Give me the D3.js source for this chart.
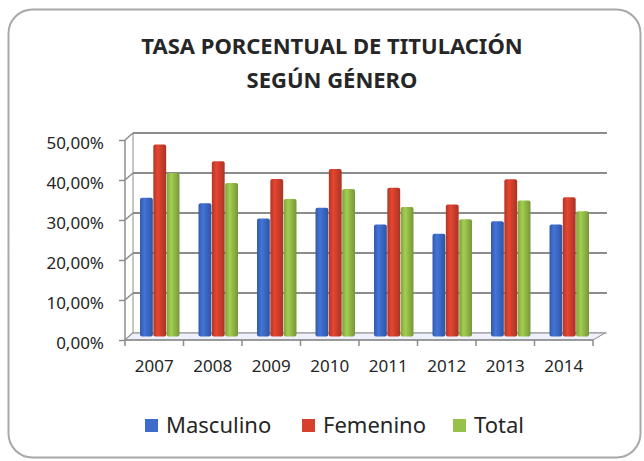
<!DOCTYPE html>
<html>
<head>
<meta charset="utf-8">
<script src="https://cdn.jsdelivr.net/npm/d3@7"></script>
<style>
  body { margin: 0; background: #fff; }
  text { font-family: "Noto Sans", "Liberation Sans", sans-serif; fill: #262626; }
</style>
</head>
<body>
<script>
var years     = ["2007", "2008", "2009", "2010", "2011", "2012", "2013", "2014"];
var series    = ["Masculino", "Femenino", "Total"];
var masculino = [34.7, 33.3, 29.5, 32.2, 28.0, 25.7, 28.8, 28.0];
var femenino  = [48.0, 43.8, 39.4, 41.9, 37.2, 33.0, 39.3, 34.8];
var total     = [40.9, 38.4, 34.4, 36.9, 32.4, 29.3, 34.0, 31.3];
var yTicks    = [0, 10, 20, 30, 40, 50];
var colors    = ["#3d6ccb", "#d6412e", "#97c14a"];

var values = [masculino, femenino, total];

var width = 644, height = 461;
var depth = { dx: 8, dy: -7 };   // back wall offset from the front plane

var svg = d3.select("body")
    .append("svg")
    .attr("width", width)
    .attr("height", height);

// outer frame
svg.append("rect")
    .attr("x", 8.5).attr("y", 9.5)
    .attr("width", 632).attr("height", 448)
    .attr("rx", 24)
    .attr("fill", "#fff")
    .attr("stroke", "#a8a8a8")
    .attr("stroke-width", 2);

// title
var title = svg.append("text")
    .attr("text-anchor", "middle")
    .attr("font-weight", "bold")
    .attr("font-size", 22);
title.append("tspan").attr("x", 332).attr("y", 54).text("TASA PORCENTUAL DE TITULACIÓN");
title.append("tspan").attr("x", 332).attr("y", 88).text("SEGÚN GÉNERO");

// front plane scales
var x = d3.scaleBand().domain(years).range([125, 593]);
var y = d3.scaleLinear().domain([0, 50]).range([340, 140]);

var defs = svg.append("defs");
colors.forEach(function (c, i) {
    var g = defs.append("linearGradient")
        .attr("id", "grad" + i)
        .attr("x1", "0%").attr("x2", "100%");
    var base = d3.color(c);
    g.append("stop").attr("offset", "0%").attr("stop-color", base.darker(0.5));
    g.append("stop").attr("offset", "35%").attr("stop-color", base.brighter(0.2));
    g.append("stop").attr("offset", "100%").attr("stop-color", base.darker(0.7));
});

var wall = svg.append("g").attr("class", "wall");

// back wall gridlines and left wall diagonals
yTicks.forEach(function (t) {
    var yf = y(t);
    wall.append("line")
        .attr("x1", 125).attr("y1", yf)
        .attr("x2", 125 + depth.dx).attr("y2", yf + depth.dy)
        .attr("stroke", "#8c8c8c").attr("stroke-width", 1.5);
    wall.append("line")
        .attr("x1", 125 + depth.dx).attr("y1", yf + depth.dy)
        .attr("x2", 607).attr("y2", yf + depth.dy)
        .attr("stroke", "#8c8c8c").attr("stroke-width", t === 0 ? 1.2 : 2);
});
wall.append("line")
    .attr("x1", 125 + depth.dx).attr("y1", y(50) + depth.dy)
    .attr("x2", 125 + depth.dx).attr("y2", y(0) + depth.dy)
    .attr("stroke", "#8c8c8c").attr("stroke-width", 1);

// floor
wall.append("path")
    .attr("d", d3.line()([[125, y(0)], [593, y(0)], [593 + depth.dx + 4, y(0) + depth.dy], [125 + depth.dx, y(0) + depth.dy]]) + "Z")
    .attr("fill", "#eef0fb")
    .attr("stroke", "#8c8c8c")
    .attr("stroke-width", 1);

// bars (sit in the middle of the depth)
var xs = d3.scaleBand().domain(d3.range(3)).range([0, 40]);
var shiftX = 15;
var shiftY = depth.dy / 2;

var groups = svg.append("g").selectAll("g")
    .data(years)
    .join("g")
    .attr("transform", function (d) { return "translate(" + (x(d) + shiftX) + "," + shiftY + ")"; });

groups.selectAll("rect")
    .data(function (d, i) { return values.map(function (v, k) { return { k: k, v: v[i] }; }); })
    .join("rect")
    .attr("x", function (d) { return xs(d.k); })
    .attr("y", function (d) { return y(d.v); })
    .attr("width", xs.bandwidth() - 0.5)
    .attr("height", function (d) { return y(0) - y(d.v); })
    .attr("rx", 2)
    .attr("fill", function (d) { return "url(#grad" + d.k + ")"; });

// front axes
var axis = svg.append("g");
axis.append("line")
    .attr("x1", 125).attr("y1", y(50)).attr("x2", 125).attr("y2", y(0))
    .attr("stroke", "#8c8c8c").attr("stroke-width", 1.5);
axis.append("line")
    .attr("x1", 125).attr("y1", y(0)).attr("x2", 593).attr("y2", y(0))
    .attr("stroke", "#8c8c8c").attr("stroke-width", 1.5);

var yAxis = svg.append("g")
    .attr("transform", "translate(125,0)")
    .call(d3.axisLeft(y).tickValues(yTicks).tickSize(6).tickPadding(15)
        .tickFormat(function (d) { return d3.format(".2f")(d).replace(".", ",") + "%"; }));
yAxis.select(".domain").remove();
yAxis.selectAll("line").attr("stroke", "#8c8c8c").attr("stroke-width", 1.5);
yAxis.selectAll("text").attr("font-size", 17).attr("dy", "0.5em").attr("fill", "#262626").attr("font-family", null);

var xAxis = svg.append("g")
    .attr("transform", "translate(0," + y(0) + ")")
    .call(d3.axisBottom(x).tickSize(0).tickPadding(20));
xAxis.select(".domain").remove();
xAxis.selectAll("text").attr("font-size", 17).attr("fill", "#262626").attr("font-family", null);

// category separators on the floor edge
svg.append("g").selectAll("line")
    .data(years.concat(["end"]))
    .join("line")
    .attr("x1", function (d, i) { return 125 + i * x.step(); })
    .attr("x2", function (d, i) { return 125 + i * x.step(); })
    .attr("y1", y(0)).attr("y2", y(0) + 6)
    .attr("stroke", "#8c8c8c").attr("stroke-width", 1.5);

// legend
var legendX = [145, 302, 453];
var legend = svg.append("g").selectAll("g")
    .data(series)
    .join("g")
    .attr("transform", function (d, i) { return "translate(" + legendX[i] + ",425)"; });
legend.append("rect")
    .attr("x", 0).attr("y", -6)
    .attr("width", 13).attr("height", 13)
    .attr("fill", function (d, i) { return colors[i]; });
legend.append("text")
    .attr("x", 21).attr("y", 8)
    .attr("font-size", 22)
    .text(function (d) { return d; });
</script>
</body>
</html>
